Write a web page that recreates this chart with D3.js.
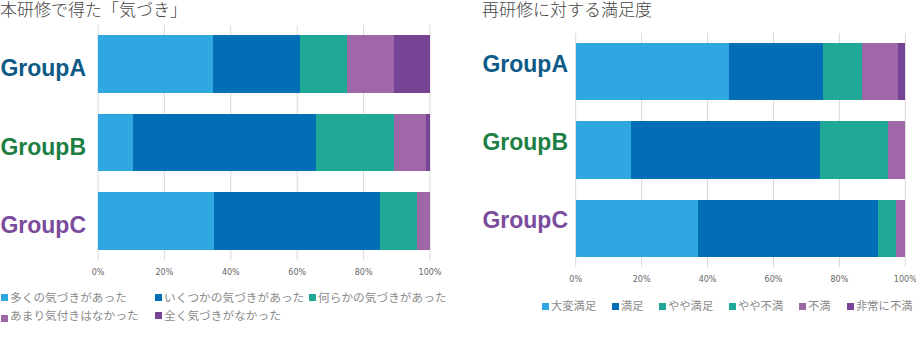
<!DOCTYPE html>
<html><head><meta charset="utf-8">
<script src="https://cdn.jsdelivr.net/npm/d3@7"></script>
<style>
html,body{margin:0;padding:0;background:#fff;}
svg{display:block;}
</style></head>
<body>
<svg id="c" width="916" height="347"></svg>
<script>
const groups = ["GroupA","GroupB","GroupC"];
const groupColors = ["#0d5b86","#1e7f45","#7b4b9c"];
const ticks = [0,0.2,0.4,0.6,0.8,1.0];

const leftTitle = "本研修で得た「気づき」";
const leftSeries = ["多くの気づきがあった","いくつかの気づきがあった","何らかの気づきがあった","あまり気付きはなかった","全く気づきがなかった"];
const leftColors = ["#2fa7e0","#036eb5","#1fa896","#a067a8","#784496"];
const leftA = [34.6,26.2,14.3,14.1,10.8];
const leftB = [10.5,55.2,23.5,9.6,1.2];
const leftC = [34.9,50.0,11.3,3.8,0.0];

const rightTitle = "再研修に対する満足度";
const rightSeries = ["大変満足","満足","やや満足","やや不満","不満","非常に不満"];
const rightColors = ["#2fa7e0","#036eb5","#1fa896","#1fa896","#a067a8","#784496"];
const rightA = [46.4,28.5,7.9,4.0,10.9,2.3];
const rightB = [16.8,57.2,12.9,8.0,4.9,0.2];
const rightC = [37.1,54.6,3.5,2.0,2.8,0.0];

const svg = d3.select("#c");
const FONT_JP = "'Noto Sans CJK JP','Noto Sans',sans-serif";

function drawChart(opt){
  const g = svg.append("g");
  const x = d3.scaleLinear().domain([0,1]).range([opt.x0,opt.x1]);
  const y = d3.scaleBand().domain(groups).range([opt.gy0,opt.gy1]).paddingInner(0.27).paddingOuter(0.13);
  g.append("text").attr("x",opt.titleX).attr("y",16).text(opt.title)
    .attr("font-family",FONT_JP).attr("font-weight",300).attr("font-size",17).attr("fill","#444");
  g.selectAll("line.grid").data(ticks).join("line")
    .attr("x1",d=>x(d)).attr("x2",d=>x(d)).attr("y1",opt.gy0).attr("y2",opt.gy1)
    .attr("stroke","#d9d9d9").attr("stroke-width",1);
  g.selectAll("text.tick").data(ticks).join("text")
    .attr("x",d=>x(d)).attr("y",opt.tickY).attr("text-anchor","middle")
    .attr("dominant-baseline","central")
    .attr("font-family","'DejaVu Sans',sans-serif").attr("font-size",8).attr("fill","#666")
    .text(d=>Math.round(d*100)+"%");
  const data = [opt.A,opt.B,opt.C];
  data.forEach((vals,gi)=>{
    const tot = d3.sum(vals);
    let acc = 0;
    vals.forEach((v,si)=>{
      const s = acc/tot, e = (acc+v)/tot; acc += v;
      if(v<=0) return;
      g.append("rect").attr("x",x(s)).attr("width",Math.max(0,x(e)-x(s)))
        .attr("y",y(groups[gi])).attr("height",y.bandwidth()).attr("fill",opt.colors[si])
        .attr("shape-rendering","crispEdges");
    });
    g.append("text").attr("x",opt.labelX).attr("y",y(groups[gi])+y.bandwidth()/2+opt.labelDy+8.2)
      .attr("text-anchor","end")
      .attr("font-family","'Liberation Sans',Arial,sans-serif").attr("font-weight","bold").attr("font-size",23)
      .attr("fill",groupColors[gi]).text(groups[gi]);
  });
  opt.legend.forEach((p,i)=>{
    g.append("rect").attr("x",p[0]).attr("y",p[1]-3+(p[2]||0)).attr("width",7).attr("height",7).attr("fill",opt.colors[i]);
    g.append("text").attr("x",p[0]+9).attr("y",p[1]).attr("dominant-baseline","central")
      .attr("font-family",FONT_JP).attr("font-size",opt.legendSize).attr("fill","#8a8a8a").text(opt.series[i]);
  });
}

drawChart({title:leftTitle,titleX:0,x0:98,x1:430,gy0:25,gy1:260,tickY:272,labelX:86,labelDy:4,legendSize:11.7,
  A:leftA,B:leftB,C:leftC,colors:leftColors,series:leftSeries,
  legend:[[1,296,1],[155,296,1],[309,296,1],[1,314,4],[155,314,1]]});
drawChart({title:rightTitle,titleX:482,x0:575.7,x1:905.3,gy0:33,gy1:267,tickY:279,labelX:568,labelDy:-8,legendSize:11.3,
  A:rightA,B:rightB,C:rightC,colors:rightColors,series:rightSeries,
  legend:[[542,305,1],[612,305,1],[659,305,1],[729,305,1],[799,305,1],[847,305,1]]});
</script>
</body></html>
